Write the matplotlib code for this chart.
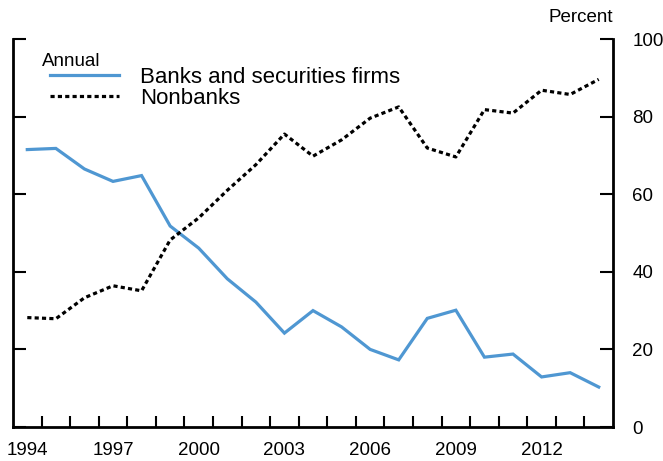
import matplotlib
matplotlib.use("Agg")
import matplotlib.pyplot as plt
from matplotlib.ticker import FixedLocator, NullFormatter

plt.rcParams["font.family"] = ["Liberation Sans", "DejaVu Sans"]

# --- Data (percent, annual) ---
years = list(range(1994, 2015))
banks = [71.5, 71.8, 66.5, 63.3, 64.8, 51.8, 46.1, 38.2, 32.2, 24.2, 30.0,
         25.8, 20.0, 17.3, 28.0, 30.1, 18.0, 18.8, 12.9, 14.0, 10.3]
nonbanks = [28.2, 27.9, 33.3, 36.4, 35.1, 48.2, 53.9, 61.0, 67.6, 75.5, 69.8,
            74.0, 79.6, 82.5, 71.9, 69.6, 81.8, 80.9, 86.8, 85.7, 89.6]
year_labels = [1994, 1997, 2000, 2003, 2006, 2009, 2012]
y_ticks = [0, 20, 40, 60, 80, 100]

blue = "#4f97d2"

fig = plt.figure(figsize=(6.63, 4.61), dpi=100)
ax = fig.add_axes([13 / 663, 34 / 461, 600 / 663, 388 / 461])

ax.plot(years, banks, color=blue, lw=2.3, label="Banks and securities firms",
        solid_joinstyle="miter")
ax.plot(years, nonbanks, color="black", lw=2.3, linestyle=(0, (1.3, 1.0)),
        label="Nonbanks")

ax.set_xlim(1993.5, 2014.5)
ax.set_ylim(0, 100)

ax.spines["top"].set_visible(False)
for s in ["left", "right", "bottom"]:
    ax.spines[s].set_linewidth(2)

# x: labels at mid-year, ticks at year boundaries
ax.set_xticks(year_labels)
ax.set_xticklabels([str(y) for y in year_labels])
ax.xaxis.set_minor_locator(FixedLocator([y + 0.5 for y in years[:-1]]))
ax.tick_params(axis="x", which="major", length=0, pad=11, labelsize=13.5)
ax.tick_params(axis="x", which="minor", direction="in", length=8, width=1.5)

# y: ticks both sides, labels on right
ax.set_yticks(y_ticks)
ax.yaxis.set_minor_locator(FixedLocator([100]))
ax.yaxis.set_minor_formatter(NullFormatter())
ax.tick_params(axis="y", which="major", direction="in", length=9.5, width=1.5,
               left=True, right=True, labelleft=False, labelright=True,
               pad=14, labelsize=13.5)
ax.tick_params(axis="y", which="minor", direction="in", length=17, width=1.5,
               left=True, right=True)

ax.text(1.0, 1.055, "Percent", transform=ax.transAxes, ha="right",
        va="center", fontsize=13.5)
ax.text(0.048, 0.943, "Annual", transform=ax.transAxes, ha="left",
        va="center", fontsize=13.5)

ax.legend(loc="upper left", bbox_to_anchor=(0.062, 0.928), frameon=False,
          fontsize=16, handlelength=3.1, handletextpad=0.95,
          labelspacing=0.0, borderpad=0, borderaxespad=0)

fig.savefig("out.png", dpi=100)
